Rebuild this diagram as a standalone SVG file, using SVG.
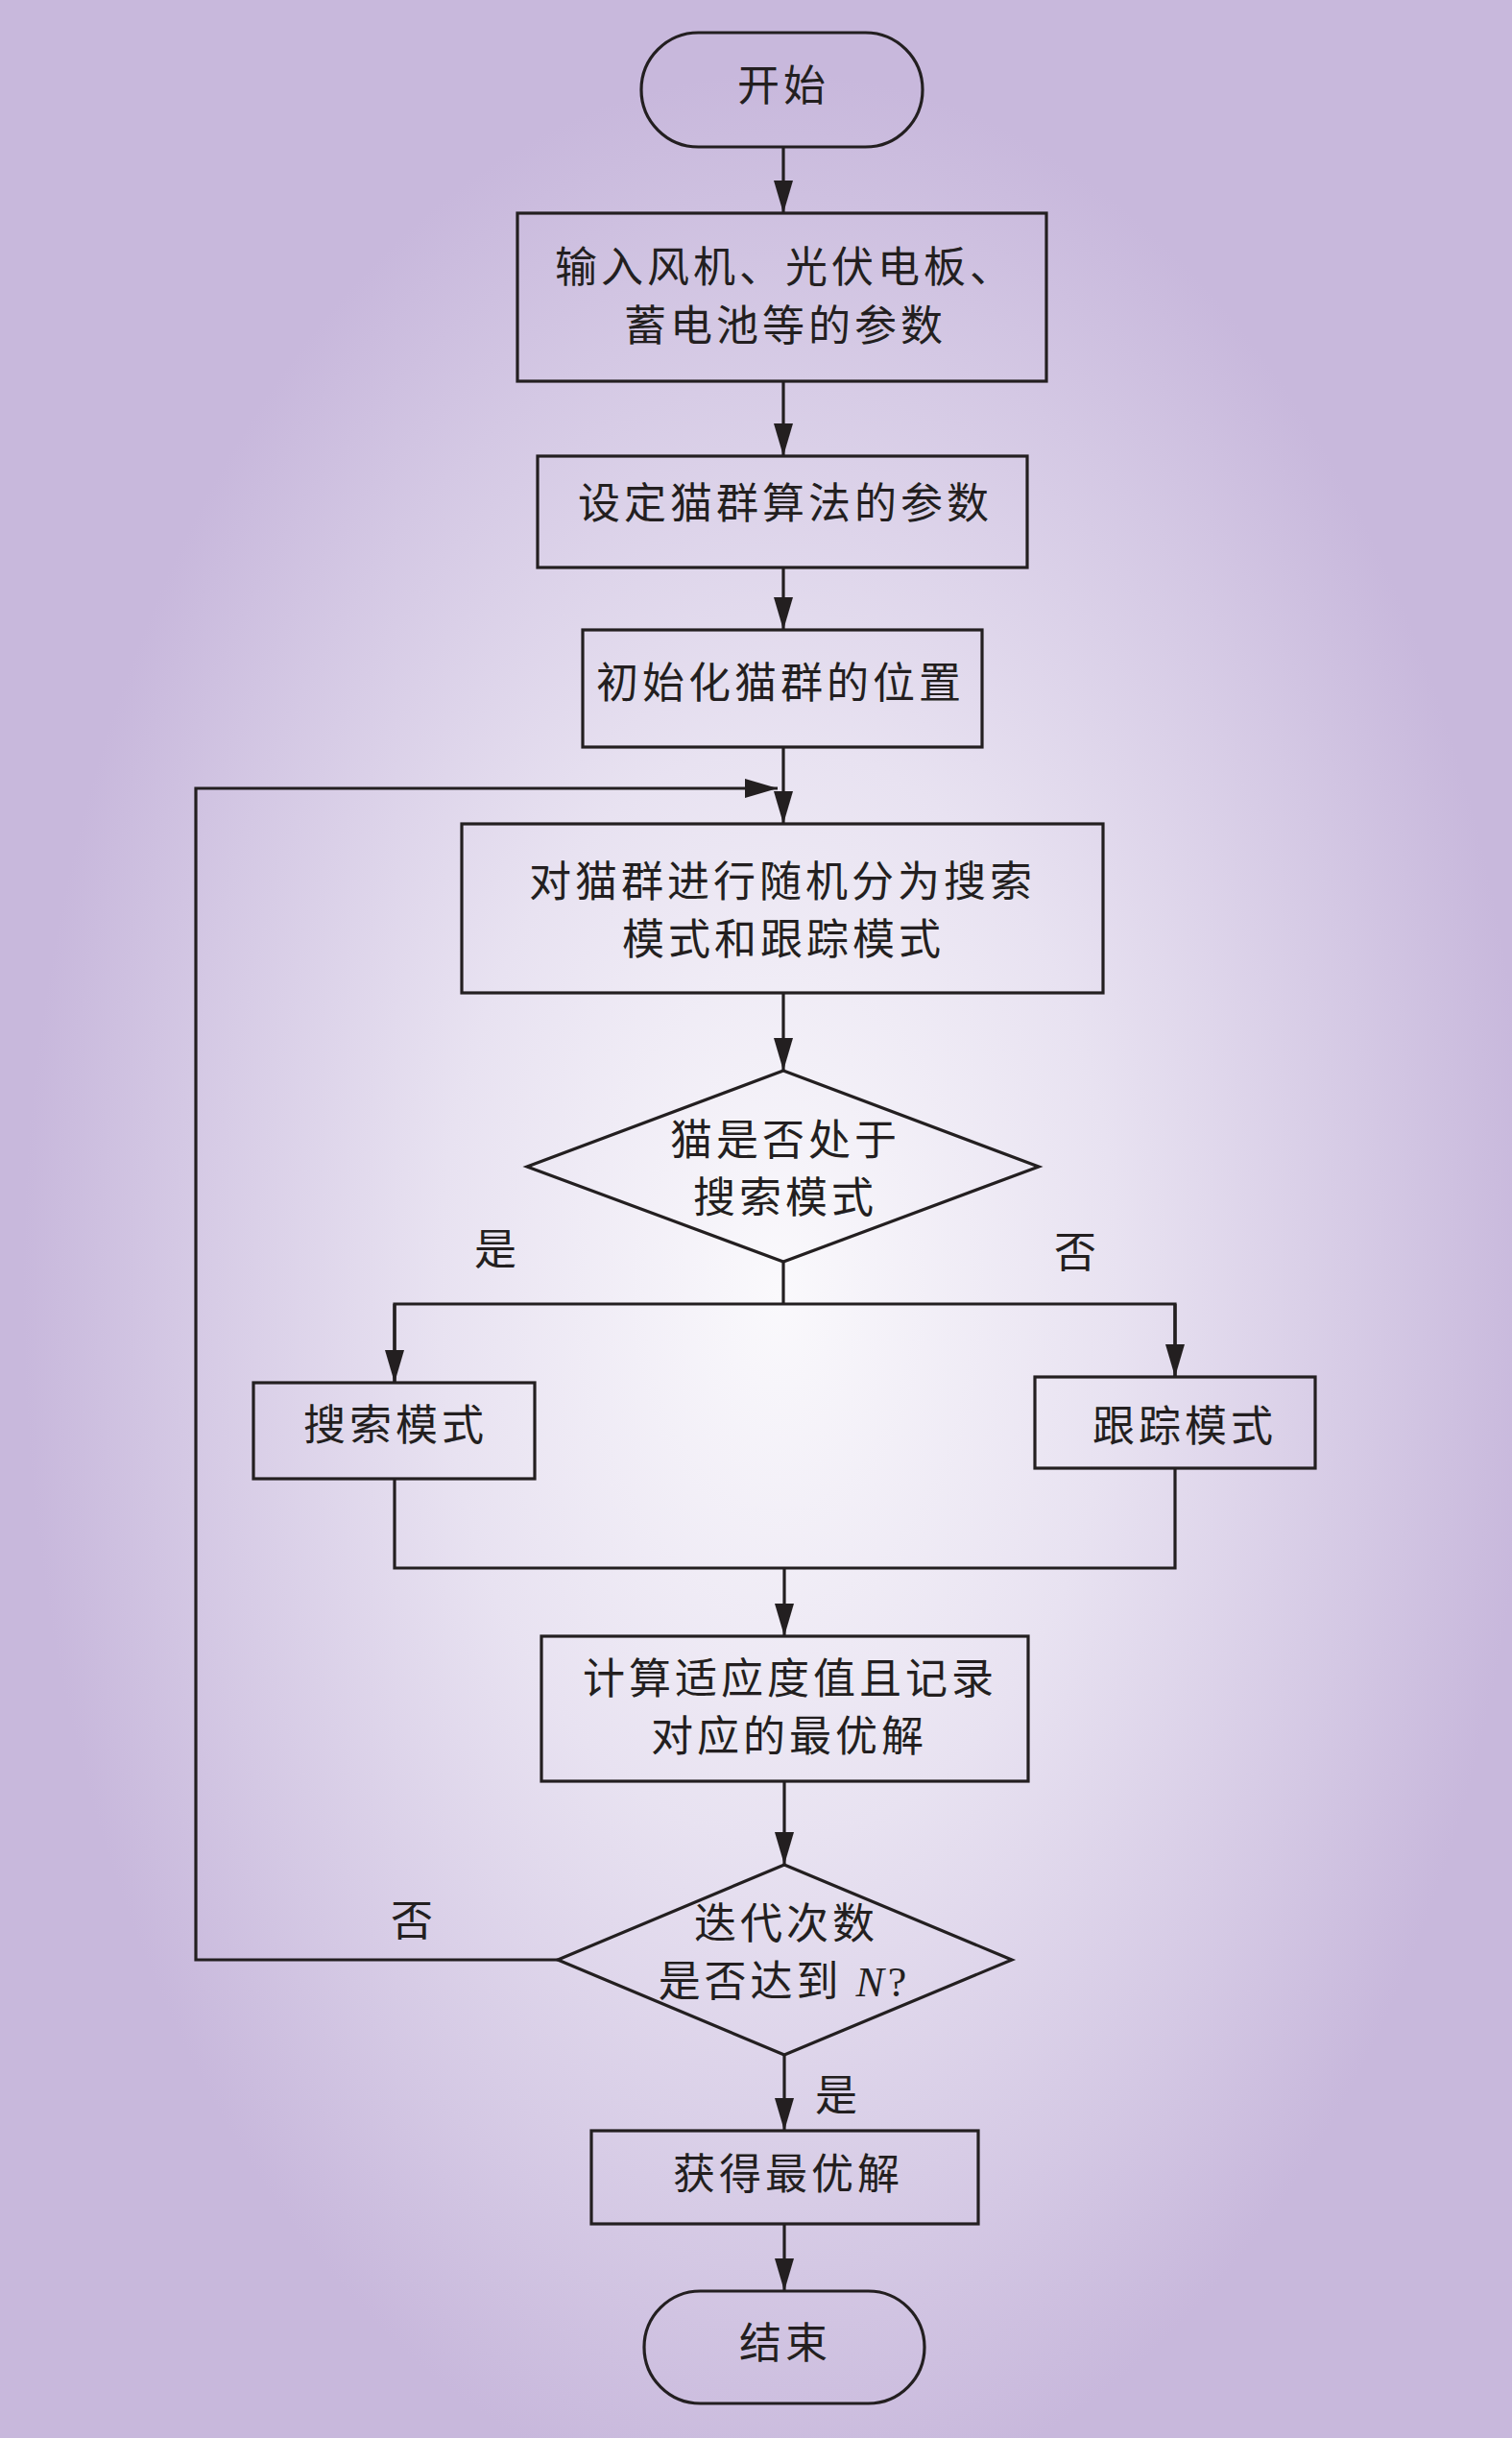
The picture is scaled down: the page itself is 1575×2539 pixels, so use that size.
<svg xmlns="http://www.w3.org/2000/svg" width="1575" height="2539" viewBox="0 0 1575 2539">
<defs>
<radialGradient id="bg" cx="0.515" cy="0.53" r="0.5" fx="0.515" fy="0.53">
<stop offset="0" stop-color="#faf9fc"/>
<stop offset="0.45" stop-color="#e8e2f1"/>
<stop offset="0.8" stop-color="#d4c8e4"/>
<stop offset="1" stop-color="#c8b8dc"/>
</radialGradient>
<marker id="arr" markerUnits="userSpaceOnUse" markerWidth="40" markerHeight="24" refX="34" refY="10" orient="auto">
<path d="M0,0 L34,10 L0,20 Z" fill="#231f20"/>
</marker>
<style>
.n{fill:none;stroke:#231f20;stroke-width:3.2}
.c{fill:none;stroke:#231f20;stroke-width:3.2}
.t{font-family:"Noto Sans CJK SC","Noto Sans CJK JP",sans-serif;font-size:44px;fill:#231f20;text-anchor:middle;letter-spacing:4px}
.i{font-family:"Liberation Serif",serif;font-style:italic}
</style>
</defs>
<rect x="0" y="0" width="1575" height="2539" fill="url(#bg)"/>

<g id="connectors">
<line class="c" x1="816" y1="153" x2="816" y2="222" marker-end="url(#arr)"/>
<line class="c" x1="816" y1="397" x2="816" y2="475" marker-end="url(#arr)"/>
<line class="c" x1="816" y1="591" x2="816" y2="656" marker-end="url(#arr)"/>
<line class="c" x1="816" y1="778" x2="816" y2="858" marker-end="url(#arr)"/>
<polyline class="c" points="581,2041 204,2041 204,821 810,821" marker-end="url(#arr)"/>
<line class="c" x1="816" y1="1034" x2="816" y2="1115" marker-end="url(#arr)"/>
<polyline class="c" points="816,1314 816,1358"/>
<polyline class="c" points="411,1440 411,1358 1224,1358 1224,1434"/>
<line class="c" x1="411" y1="1358" x2="411" y2="1440" marker-end="url(#arr)"/>
<line class="c" x1="1224" y1="1358" x2="1224" y2="1434" marker-end="url(#arr)"/>
<polyline class="c" points="411,1540 411,1633 1224,1633 1224,1529"/>
<line class="c" x1="817" y1="1633" x2="817" y2="1704" marker-end="url(#arr)"/>
<line class="c" x1="817" y1="1855" x2="817" y2="1942" marker-end="url(#arr)"/>
<line class="c" x1="817" y1="2140" x2="817" y2="2219" marker-end="url(#arr)"/>
<line class="c" x1="817" y1="2316" x2="817" y2="2386" marker-end="url(#arr)"/>
<text class="t" x="518" y="1317">是</text>
<text class="t" x="1122" y="1320">否</text>
<text class="t" x="431" y="2016">否</text>
<text class="t" x="873" y="2198">是</text>
</g>

<g id="start">
<rect class="n" x="668" y="34" width="293" height="119" rx="59.5" ry="59.5"/>
<text class="t" x="816" y="105">开始</text>
</g>

<g id="input">
<rect class="n" x="539" y="222" width="551" height="175"/>
<text class="t" x="818" y="294">输入风机、光伏电板、</text>
<text class="t" x="818" y="355">蓄电池等的参数</text>
</g>

<g id="setparam">
<rect class="n" x="560" y="475" width="510" height="116"/>
<text class="t" x="818" y="540">设定猫群算法的参数</text>
</g>

<g id="init">
<rect class="n" x="607" y="656" width="416" height="122"/>
<text class="t" x="813" y="727">初始化猫群的位置</text>
</g>

<g id="divide">
<rect class="n" x="481" y="858" width="668" height="176"/>
<text class="t" x="815" y="934">对猫群进行随机分为搜索</text>
<text class="t" x="816" y="994">模式和跟踪模式</text>
</g>

<g id="decide1">
<polygon class="n" points="816,1115 1082,1215 816,1314 549,1215"/>
<text class="t" x="818" y="1203">猫是否处于</text>
<text class="t" x="818" y="1263">搜索模式</text>
</g>

<g id="search">
<rect class="n" x="264" y="1440" width="293" height="100"/>
<text class="t" x="412" y="1500">搜索模式</text>
</g>

<g id="track">
<rect class="n" x="1078" y="1434" width="292" height="95"/>
<text class="t" x="1234" y="1501">跟踪模式</text>
</g>

<g id="calc">
<rect class="n" x="564" y="1704" width="507" height="151"/>
<text class="t" x="823" y="1764">计算适应度值且记录</text>
<text class="t" x="822" y="1824">对应的最优解</text>
</g>

<g id="decide2">
<polygon class="n" points="817,1942 1054,2041 817,2140 581,2041"/>
<text class="t" x="819" y="2019">迭代次数</text>
<text class="t" x="817" y="2079">是否达到 <tspan class="i">N</tspan><tspan font-family="Liberation Serif, serif">?</tspan></text>
</g>

<g id="best">
<rect class="n" x="616" y="2219" width="403" height="97"/>
<text class="t" x="821" y="2280">获得最优解</text>
</g>

<g id="end">
<rect class="n" x="671" y="2386" width="292" height="117" rx="58.5" ry="58.5"/>
<text class="t" x="818" y="2456">结束</text>
</g>
</svg>
